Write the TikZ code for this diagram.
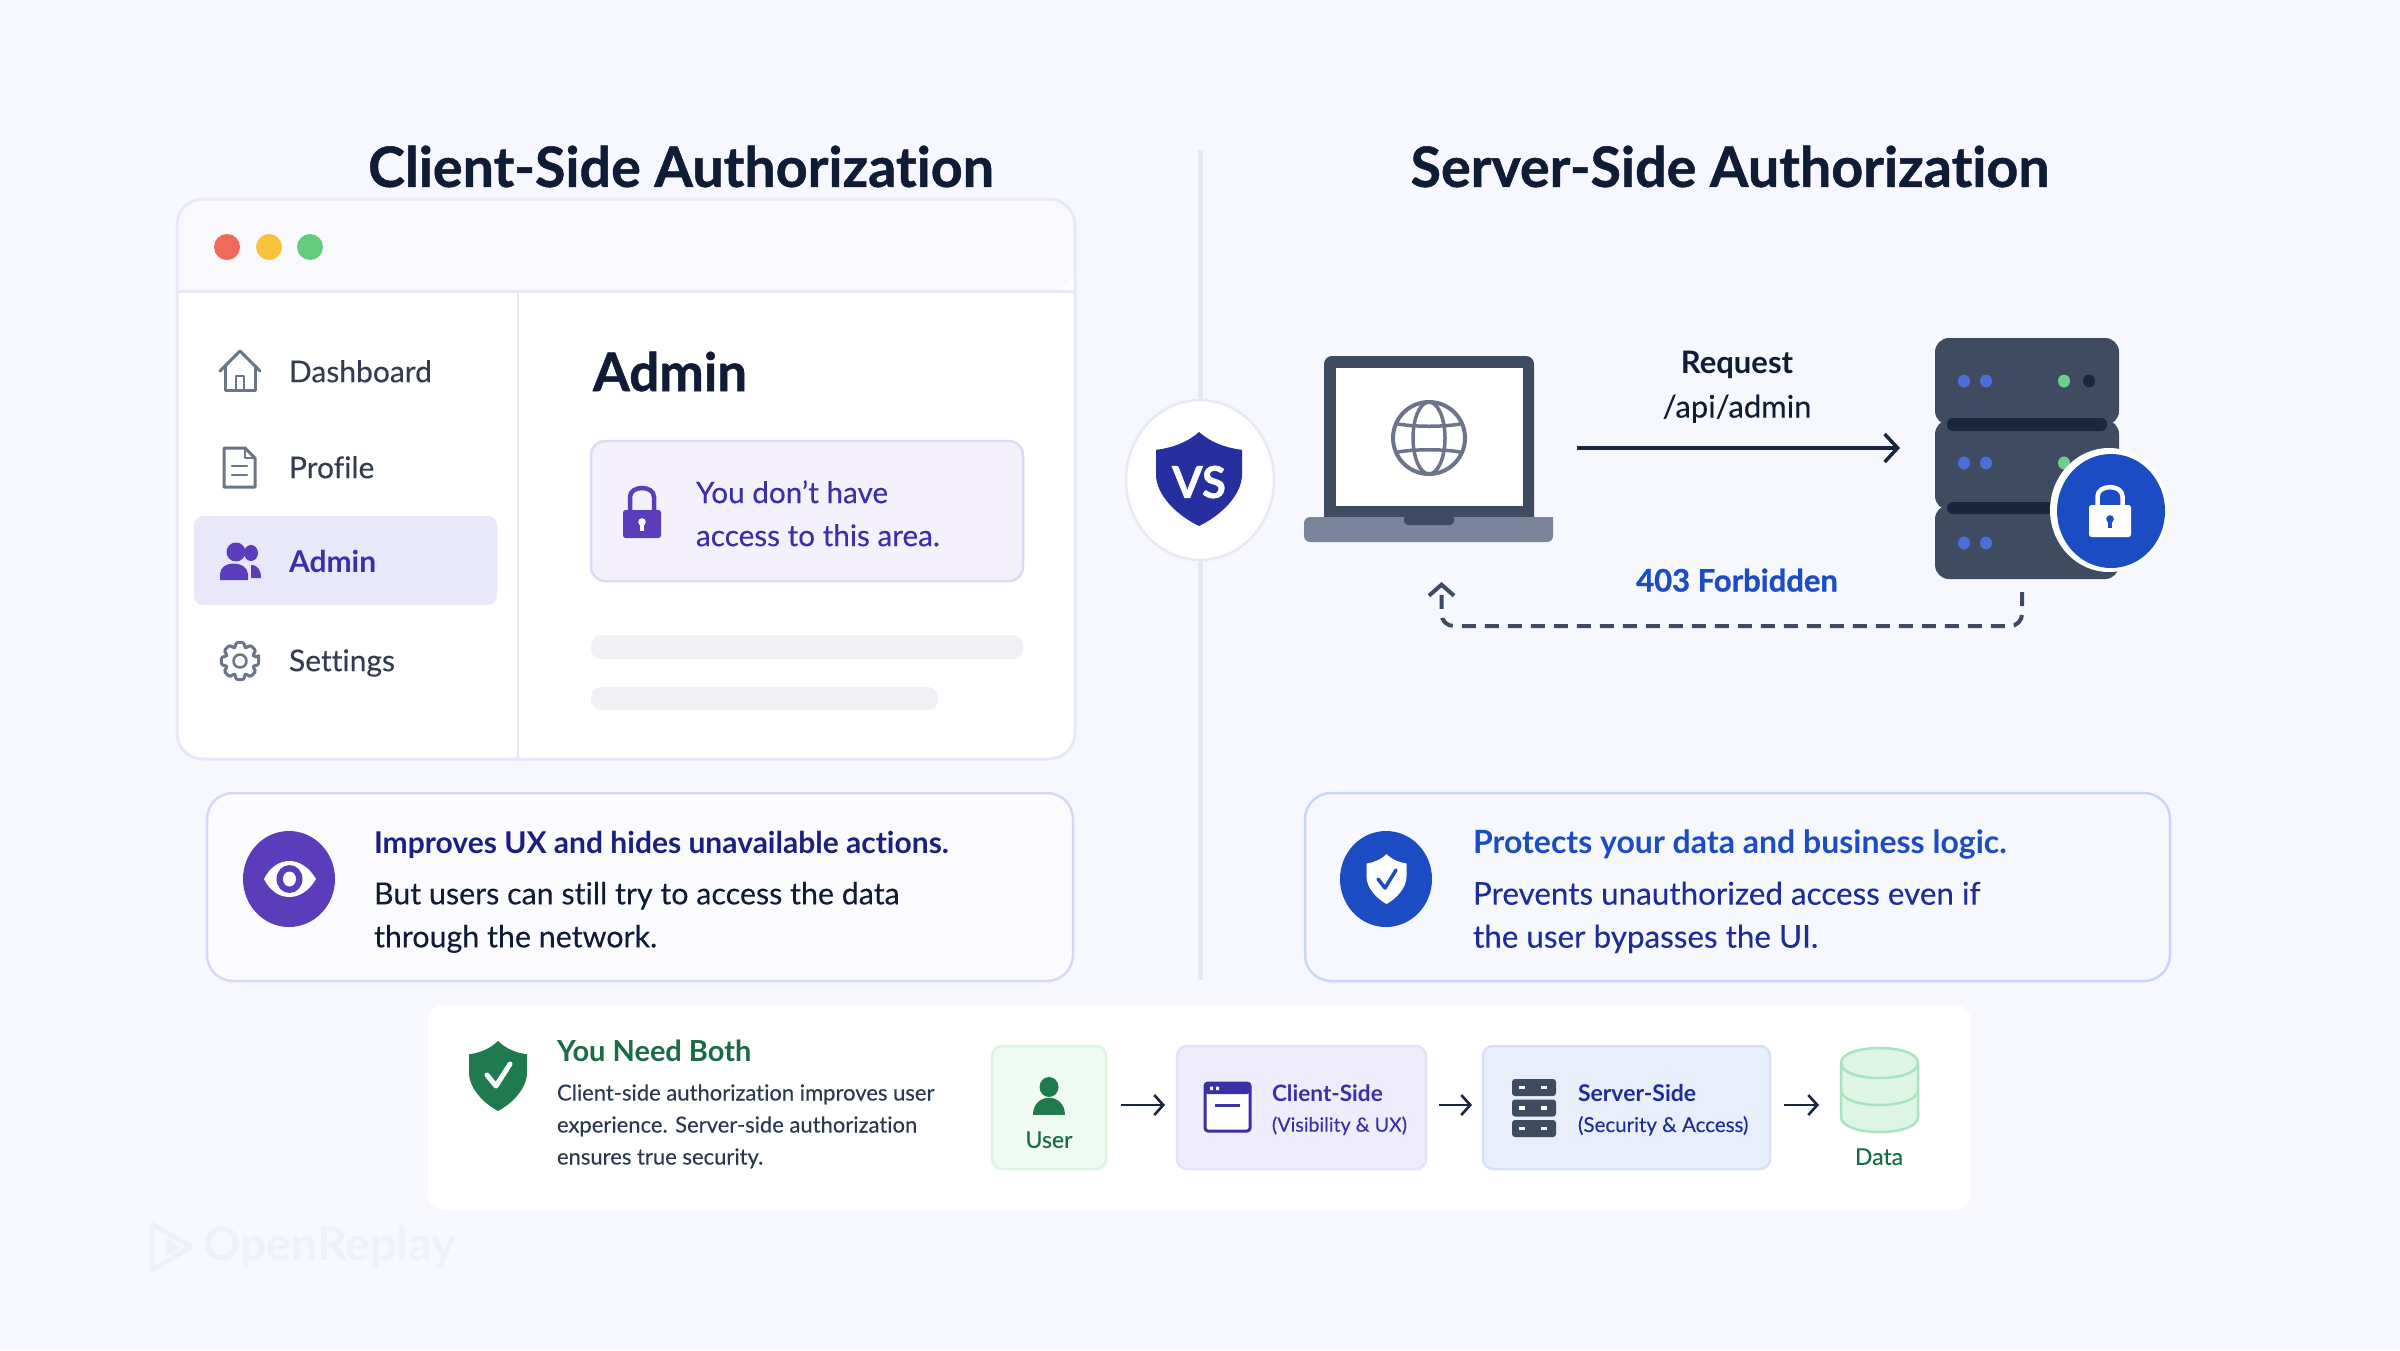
\documentclass[tikz,border=0pt]{standalone}
\usepackage{fontspec}
\setmainfont{Lato}[Ligatures=NoCommon]
\newfontfamily\heavy{Lato}[Ligatures=NoCommon,BoldFeatures={FakeBold=0.9}]
\newfontfamily\medf{Lato}[Ligatures=NoCommon,FakeBold=0.2]
\usetikzlibrary{arrows.meta}
\definecolor{bg}{HTML}{F6F8FE}
\definecolor{edge}{HTML}{E8E9F7}
\definecolor{barc}{HTML}{F9F9FD}
\definecolor{ink}{HTML}{101B35}
\definecolor{grayt}{HTML}{333B4F}
\definecolor{grayi}{HTML}{6B7488}
\definecolor{indigo}{HTML}{3A2FA6}
\definecolor{purple}{HTML}{5B3DBB}
\definecolor{hili}{HTML}{E9E8FB}
\definecolor{alertf}{HTML}{F4F1FC}
\definecolor{alerte}{HTML}{DDD9F6}
\definecolor{skel}{HTML}{F1F1F5}
\definecolor{navy}{HTML}{262F9F}
\definecolor{slate}{HTML}{3F4B60}
\definecolor{slated}{HTML}{1A2540}
\definecolor{lapbase}{HTML}{7A859C}
\definecolor{blue}{HTML}{1C4CC4}
\definecolor{blued}{HTML}{1E2C9A}
\definecolor{headl}{HTML}{1A1F80}
\definecolor{dotb}{HTML}{4A6FD8}
\definecolor{dotg}{HTML}{6BD08A}
\definecolor{green}{HTML}{1F7A4F}
\definecolor{greent}{HTML}{1A6B46}
\definecolor{smallt}{HTML}{2C3850}
\definecolor{userf}{HTML}{EFFBF2}
\definecolor{usere}{HTML}{DDF5E3}
\definecolor{clif}{HTML}{EFEDFB}
\definecolor{clie}{HTML}{E4E2F6}
\definecolor{srvf}{HTML}{E9EEFB}
\definecolor{srve}{HTML}{D8E0F6}
\definecolor{cylf}{HTML}{DDF5E5}
\definecolor{cyle}{HTML}{A9E3BF}
\definecolor{wm}{HTML}{EDF2FA}
\definecolor{cardl}{HTML}{D9D8F3}
\definecolor{cardr}{HTML}{C9D6F5}
\definecolor{cardf}{HTML}{FBFBFE}
\definecolor{vline}{HTML}{E6E8F2}
\definecolor{rd}{HTML}{F0695A}
\definecolor{yl}{HTML}{F9C23C}
\definecolor{gr}{HTML}{66CB7F}
\tikzset{
  icon/.style={draw=grayi,line width=3pt,line join=round,line cap=round,fill=none},
  card/.style={rounded corners=26pt,line width=2.5pt},
  flowarrow/.style={draw=slated,line width=2.6pt,-{Straight Barb[length=9pt,width=20pt]}},
}
\newcommand{\pxbox}[6]{\node[#6,inner sep=0pt,outer sep=0pt,minimum width={(#4-#2)*1pt},minimum height={(#5-#3)*1pt}] (#1) at ({(#2+#4)/2},{(#3+#5)/2}) {};}
\newcommand{\lbl}[7][base west]{\node[anchor=#1,inner sep=0pt,outer sep=0pt,text=#5,font={\fontsize{#4}{#4}\selectfont #6},yshift={-0.34*#4*1pt}] (#2) at (#3) {#7};}
\newcommand{\shieldp}{(0,-1) .. controls (0.3,-0.76) and (0.65,-0.66) .. (1,-0.62) -- (1,-0.1) .. controls (1,0.35) and (0.5,0.78) .. (0,1) .. controls (-0.5,0.78) and (-1,0.35) .. (-1,-0.1) -- (-1,-0.62) .. controls (-0.65,-0.66) and (-0.3,-0.76) .. (0,-1) -- cycle}
\newcommand{\lockic}[8]{% cx, shackletop, bodytop, bottom, halfw, shacklehw, color, keycolor
  \fill[#7,rounded corners=2.5pt] ({#1-#5},#3) rectangle ({#1+#5},#4);
  \draw[#7,line width=4.5pt] ({#1-#6},#3) -- ({#1-#6},{#2+#6}) .. controls ({#1-#6},#2) and ({#1+#6},#2) .. ({#1+#6},{#2+#6}) -- ({#1+#6},#3);
  \fill[#8] (#1,{(#3+#4)/2-2}) circle[radius=3.8];
  \fill[#8] ({#1-1.8},{(#3+#4)/2-2}) rectangle ({#1+1.8},{(#3+#4)/2+7});
}
\begin{document}
\begin{tikzpicture}[x=1pt,y=-1pt]
\useasboundingbox (0,0) rectangle (2400,1350);
\fill[bg] (0,0) rectangle (2400,1350);

% watermark
\draw[wm,line width=5pt,line join=round] (152,1224) -- (191,1247) -- (152,1270) -- cycle;
\fill[wm] (166,1238) -- (180,1247) -- (166,1256) -- cycle;
\lbl{wmtext}{203,1245}{46.5}{wm}{\bfseries}{OpenReplay}

% titles
\lbl[base]{titleL}{681,168}{55.6}{ink}{\heavy\bfseries}{Client-Side Authorization}
\lbl[base]{titleR}{1730,168}{55.6}{ink}{\heavy\bfseries}{Server-Side Authorization}

% centre divider
\fill[vline] (1197.5,150) rectangle (1202.5,980);
\pxbox{vscircle}{1126}{400}{1274}{560}{}
\fill[white] (1200,480) ellipse[x radius=74,y radius=80];
\draw[edge,line width=2.5pt] (1200,480) ellipse[x radius=74,y radius=80];
\begin{scope}[shift={(1199,479)},xscale=43,yscale=47]
\fill[navy] \shieldp;
\end{scope}
\lbl[base]{vstext}{1199,483}{44}{white}{\heavy\bfseries}{VS}

% browser window
\pxbox{window}{177}{199}{1075}{759}{fill=white,rounded corners=26pt}
\fill[barc,rounded corners=26pt] (177,291) -- (177,199) -- (1075,199) -- (1075,291) [sharp corners] -- cycle;
\draw[edge,line width=3pt] (177,291) -- (1075,291);
\draw[edge,line width=2.5pt] (518,291) -- (518,759);
\draw[edge,line width=3pt,rounded corners=26pt] (177,199) rectangle (1075,759);
\fill[rd] (227,247) circle[radius=13];
\fill[yl] (269,247) circle[radius=13];
\fill[gr] (310,247) circle[radius=13];

% sidebar
\draw[icon] (220,371) -- (240,351) -- (260,371);
\draw[icon] (225,366) -- (225,390) -- (255,390) -- (255,366);
\draw[icon,line width=2.5pt] (236,390) -- (236,376) -- (244,376) -- (244,390);
\lbl{navdash}{289,372}{30}{grayt}{\medf}{Dashboard}

\draw[icon] (224,448) -- (245,448) -- (255,458) -- (255,487) -- (224,487) -- cycle;
\draw[icon,line width=2.5pt] (245,448) -- (245,458) -- (255,458);
\draw[icon,line width=2.5pt] (232,466) -- (247,466) (232,475) -- (247,475);
\lbl{navprof}{289,468}{30}{grayt}{\medf}{Profile}

\pxbox{navhi}{194}{516}{497}{605}{fill=hili,rounded corners=9pt}
\fill[purple] (236,552) ellipse[x radius=9.5,y radius=9.5];
\fill[purple] (220,580) -- (220,574) .. controls (220,560) and (247,560) .. (248,574) -- (248,580) -- cycle;
\fill[purple] (251,553) ellipse[x radius=7,y radius=8];
\fill[purple] (251,565) .. controls (258,565) and (261,570) .. (261,578) -- (251,578) -- cycle;
\lbl{navadmin}{289,562}{30}{indigo}{\bfseries}{Admin}

\begin{scope}[shift={(240,661)}]
\draw[icon,rounded corners=1.5pt] (-12:19) \foreach \a in {0,45,...,315}{ -- (\a-12:19) -- (\a+12:19) -- (\a+19:14.5) -- (\a+26:14.5)} -- cycle;
\draw[icon,line width=2.5pt] (0,0) circle[radius=6.5];
\end{scope}
\lbl{navset}{289,661}{30}{grayt}{\medf}{Settings}

% content
\lbl{admintitle}{593,373}{53}{ink}{\heavy\bfseries}{Admin}
\pxbox{alert}{591}{441}{1023}{581}{fill=alertf,draw=alerte,line width=2.5pt,rounded corners=14pt}
\lockic{642}{485}{510}{538}{19}{12}{purple}{white}
\lbl{alert1}{696,493}{29.7}{indigo}{\medf}{You don’t have}
\lbl{alert2}{696,536}{29.7}{indigo}{\medf}{access to this area.}
\pxbox{skel1}{591}{635}{1023}{659}{fill=skel,rounded corners=10pt}
\pxbox{skel2}{591}{687}{938}{710}{fill=skel,rounded corners=10pt}

% laptop
\pxbox{laptop}{1304}{356}{1553}{542}{}
\fill[slate,rounded corners=8pt] (1324,530) -- (1324,356) -- (1534,356) -- (1534,530) -- cycle;
\fill[white] (1336,368) rectangle (1523,506);
\fill[lapbase,rounded corners=6pt] (1304,517) [sharp corners] -- (1553,517) [rounded corners=6pt] -- (1553,542) -- (1304,542) -- cycle;
\fill[slate,rounded corners=4pt] (1404,515) -- (1454,515) -- (1454,525) -- (1404,525) -- cycle;
\draw[icon,line width=4pt] (1429,438) circle[radius=36];
\draw[icon,line width=3.5pt] (1429,438) ellipse[x radius=16,y radius=36];
\draw[icon,line width=3.5pt] (1398,424) .. controls (1415,427) and (1443,427) .. (1460,424);
\draw[icon,line width=3.5pt] (1398,452) .. controls (1415,449) and (1443,449) .. (1460,452);

% server
\pxbox{server}{1935}{338}{2119}{579}{}
\fill[slate,rounded corners=14pt] (1935,338) rectangle (2119,425);
\fill[slate,rounded corners=14pt] (1935,420) rectangle (2119,510);
\fill[slate,rounded corners=14pt] (1935,505) rectangle (2119,579);
\fill[slated,rounded corners=6pt] (1947,418) rectangle (2107,431);
\fill[slated,rounded corners=6pt] (1947,502) rectangle (2107,514);
\foreach \yy in {381,463,543}{
  \fill[dotb] (1964,\yy) ellipse[x radius=6,y radius=6.5];
  \fill[dotb] (1986,\yy) ellipse[x radius=6,y radius=6.5];
}
\fill[dotg] (2064,381) ellipse[x radius=6,y radius=6.5];
\fill[slated] (2089,381) ellipse[x radius=6,y radius=6.5];
\fill[dotg] (2064,463) ellipse[x radius=6,y radius=6.5];
\fill[white] (2109,510) ellipse[x radius=59,y radius=62];
\fill[blue] (2111,511) ellipse[x radius=54,y radius=57];
\lockic{2110}{484}{505}{537}{21}{12.5}{white}{blue}

% request labels and connectors
\lbl[base]{reqlbl}{1737,363}{31}{ink}{\bfseries}{Request}
\lbl[base]{reqpath}{1737,407}{31}{ink}{\medf}{/api/admin}
\draw[draw=slated,line width=3.5pt,-{Straight Barb[length=13pt,width=28pt]},shorten <=24pt,shorten >=35pt] (laptop.east |- 0,448) -- (server.west |- 0,448);
\lbl[base]{forbid}{1737,581}{31}{blue}{\heavy\bfseries}{403 Forbidden}
\draw[draw=slate,line width=4pt,dash pattern=on 14pt off 9pt,rounded corners=12pt,-{Straight Barb[length=11pt,width=25pt]},shorten <=13pt,shorten >=40pt] ([xshift=-5pt]server.south) -- ++(0,47) -| ([xshift=13pt]laptop.south);

% info cards
\pxbox{cardL}{207}{793}{1073}{981}{card,fill=cardf,draw=cardl}
\pxbox{eyecirc}{243}{831}{335}{927}{}
\fill[purple] (289,879) ellipse[x radius=46,y radius=48];
\fill[white] (264,879) .. controls (276,855) and (302,855) .. (316,879) .. controls (302,903) and (276,903) .. (264,879) -- cycle;
\fill[purple] (289.5,879) ellipse[x radius=13,y radius=14];
\fill[white] (289.5,879) ellipse[x radius=6.5,y radius=7.5];
\lbl{cl1}{374,843}{30}{headl}{\bfseries}{Improves UX and hides unavailable actions.}
\lbl{cl2}{374,894}{30.4}{ink}{\medf}{But users can still try to access the data}
\lbl{cl3}{374,937}{30.4}{ink}{\medf}{through the network.}

\pxbox{cardR}{1305}{793}{2170}{981}{card,fill=bg,draw=cardr}
\fill[blue] (1386,879) ellipse[x radius=46,y radius=48];
\begin{scope}[shift={(1386.5,879)},xscale=20,yscale=25]
\fill[white] \shieldp;
\end{scope}
\draw[blue,line width=3.5pt,line cap=round,line join=round] (1378,879) -- (1385,888) -- (1396,870);
\lbl{cr1}{1473,843}{32}{blue}{\bfseries}{Protects your data and business logic.}
\lbl{cr2}{1473,894}{31.4}{blued}{\medf}{Prevents unauthorized access even if}
\lbl{cr3}{1473,937}{31.4}{blued}{\medf}{the user bypasses the UI.}

% bottom panel
\pxbox{panel}{428}{1005}{1971}{1210}{fill=white,rounded corners=16pt}
\begin{scope}[shift={(498,1076)},xscale=29,yscale=35]
\fill[green] \shieldp;
\end{scope}
\draw[white,line width=5pt,line cap=round,line join=round] (487,1075) -- (496,1086) -- (510,1064);
\lbl{bothhead}{557,1052}{29}{greent}{\bfseries}{You Need Both}
\lbl{both1}{557,1093}{22}{smallt}{\medf}{Client-side authorization improves user}
\lbl{both2}{557,1125}{22}{smallt}{\medf}{experience. Server-side authorization}
\lbl{both3}{557,1157}{22}{smallt}{\medf}{ensures true security.}

\pxbox{userbox}{992}{1046}{1106}{1169}{fill=userf,draw=usere,line width=2.5pt,rounded corners=10pt}
\fill[green] (1049,1087) ellipse[x radius=9.5,y radius=10];
\fill[green] (1033,1115) .. controls (1033,1092) and (1065,1092) .. (1065,1115) -- cycle;
\lbl[base]{usertxt}{1049,1140}{23}{greent}{\medf}{User}

\pxbox{clibox}{1177}{1046}{1426}{1169}{fill=clif,draw=clie,line width=2.5pt,rounded corners=10pt}
\fill[white,rounded corners=3pt] (1205,1083) rectangle (1250,1131);
\fill[indigo,rounded corners=3pt] (1205,1083) rectangle (1250,1094);
\draw[indigo,line width=3pt,rounded corners=3pt] (1205,1083) rectangle (1250,1131);
\fill[white] (1210,1086.5) rectangle (1213,1090) (1216,1086.5) rectangle (1219,1090);
\draw[indigo,line width=3pt] (1215,1105) -- (1240,1105);
\lbl{clihead}{1272,1094}{22.6}{indigo}{\bfseries}{Client-Side}
\lbl{clisub}{1272,1125}{19.6}{indigo}{\medf}{(Visibility \& UX)}

\pxbox{srvbox}{1483}{1046}{1770}{1169}{fill=srvf,draw=srve,line width=2.5pt,rounded corners=10pt}
\foreach \yy in {1079,1099.5,1120}{
  \fill[slate,rounded corners=3pt] (1512,\yy) rectangle (1556,\yy+17);
  \fill[white] (1519,\yy+6.5) rectangle (1525,\yy+10);
  \fill[white] (1541,\yy+6.5) rectangle (1547,\yy+10);
}
\lbl{srvhead}{1578,1094}{23}{blued}{\bfseries}{Server-Side}
\lbl{srvsub}{1578,1125}{20.5}{blued}{\medf}{(Security \& Access)}

\pxbox{datacyl}{1841}{1048}{1918}{1132}{}
\draw[cyle,fill=cylf,line width=2.5pt] (1841,1063) -- (1841,1117) .. controls (1841,1137) and (1918,1137) .. (1918,1117) -- (1918,1063) .. controls (1918,1043) and (1841,1043) .. (1841,1063) -- cycle;
\draw[cyle,line width=2.5pt] (1841,1063) .. controls (1841,1083) and (1918,1083) .. (1918,1063);
\draw[cyle,line width=2.5pt] (1841,1090) .. controls (1841,1110) and (1918,1110) .. (1918,1090);
\lbl[base]{datatxt}{1879,1157}{23}{greent}{\medf}{Data}

\draw[flowarrow,shorten <=15pt,shorten >=12pt] ([yshift=2.5pt]userbox.east) -- ([yshift=2.5pt]clibox.west);
\draw[flowarrow,shorten <=13pt,shorten >=11pt] ([yshift=2.5pt]clibox.east) -- ([yshift=2.5pt]srvbox.west);
\draw[flowarrow,shorten <=14pt,shorten >=22pt] ([yshift=2.5pt]srvbox.east) -- ([yshift=2.5pt]srvbox.east -| datacyl.west);
\end{tikzpicture}
\end{document}
